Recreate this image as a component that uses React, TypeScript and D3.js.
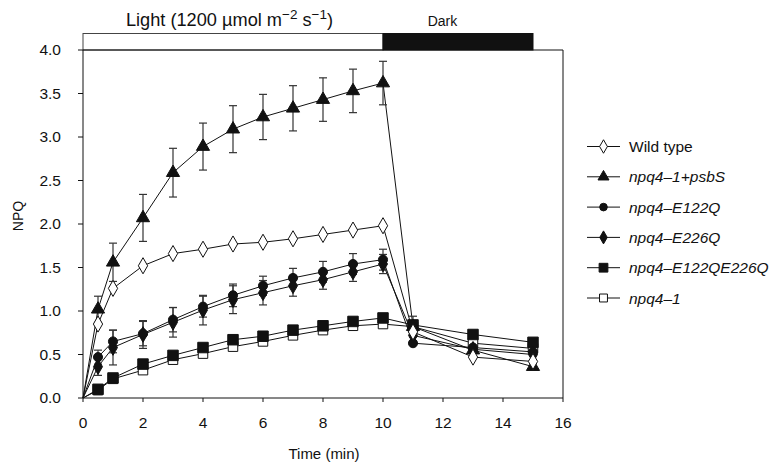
import React from 'react';
import { scaleLinear, line, symbol, symbolTriangle, symbolDiamond, symbolSquare, symbolCircle } from 'd3';

const times = [0, 0.5, 1, 2, 3, 4, 5, 6, 7, 8, 9, 10, 11, 13, 15];
const xTickValues = [0, 2, 4, 6, 8, 10, 12, 14, 16];
const yTickValues = [0, 0.5, 1, 1.5, 2, 2.5, 3, 3.5, 4];

const wildType = [0, 0.85, 1.26, 1.52, 1.66, 1.71, 1.77, 1.79, 1.83, 1.88, 1.93, 1.98, 0.76, 0.47, 0.42];
const psbS = [0, 1.02, 1.56, 2.07, 2.59, 2.89, 3.09, 3.23, 3.33, 3.43, 3.53, 3.62, 0.82, 0.55, 0.36];
const psbSErr = [0, 0.15, 0.22, 0.27, 0.28, 0.27, 0.27, 0.26, 0.26, 0.25, 0.25, 0.25, 0.12, 0, 0];
const e122q = [0, 0.47, 0.65, 0.74, 0.9, 1.05, 1.18, 1.29, 1.38, 1.45, 1.54, 1.59, 0.63, 0.58, 0.53];
const e122qErr = [0, 0.08, 0.13, 0.14, 0.14, 0.12, 0.13, 0.11, 0.11, 0.12, 0.12, 0.12, 0, 0, 0];
const e226q = [0, 0.36, 0.58, 0.73, 0.87, 1.01, 1.13, 1.21, 1.29, 1.36, 1.45, 1.54, 0.72, 0.56, 0.5];
const e226qErr = [0, 0.1, 0.2, 0.16, 0.17, 0.17, 0.16, 0.14, 0.12, 0.11, 0.11, 0.11, 0, 0, 0];
const double = [0, 0.1, 0.23, 0.39, 0.49, 0.58, 0.67, 0.71, 0.78, 0.83, 0.88, 0.92, 0.84, 0.73, 0.64];
const npq41 = [0, 0.09, 0.22, 0.32, 0.44, 0.51, 0.59, 0.65, 0.72, 0.78, 0.83, 0.85, 0.82, 0.63, 0.57];

const series = [
  { name: 'Wild type', italic: false, values: wildType, err: null, shape: symbolDiamond, size: 75, fill: '#fff' },
  { name: 'npq4\u20131+psbS', italic: true, values: psbS, err: psbSErr, shape: symbolTriangle, size: 75, fill: '#111' },
  { name: 'npq4\u2013E122Q', italic: true, values: e122q, err: e122qErr, shape: symbolCircle, size: 65, fill: '#111' },
  { name: 'npq4\u2013E226Q', italic: true, values: e226q, err: e226qErr, shape: symbolDiamond, size: 70, fill: '#111' },
  { name: 'npq4\u2013E122QE226Q', italic: true, values: double, err: null, shape: symbolSquare, size: 110, fill: '#111' },
  { name: 'npq4\u20131', italic: true, values: npq41, err: null, shape: symbolSquare, size: 90, fill: '#fff' },
];

const drawOrder = [5, 4, 3, 2, 1, 0];

export default function App() {
  const left = 83, top = 50, w = 480, h = 348;
  const x = scaleLinear().domain([0, 16]).range([left, left + w]);
  const y = scaleLinear().domain([0, 4]).range([top + h, top]);
  const font = 'Liberation Sans, Arial, sans-serif';

  const lineF = line<number>()
    .x((_, i) => x(times[i]))
    .y(d => y(d));

  return (
    <svg width={773} height={465} style={{ position: 'absolute', left: 0, top: 0, background: '#fff' }} fontFamily={font}>
      {/* light / dark bar */}
      <rect x={x(0)} y={33.5} width={x(10) - x(0)} height={top - 33.5} fill="#fff" stroke="#444" strokeWidth={1} />
      <rect x={x(10)} y={33.5} width={x(15) - x(10)} height={top - 33.5} fill="#111" stroke="#111" strokeWidth={1} />
      <text x={229.5} y={26} textAnchor="middle" fontSize={18.2} fill="#111">
        Light (1200 µmol m<tspan dy={-7} fontSize={13.5}>−2</tspan><tspan dy={7}> s</tspan><tspan dy={-7} fontSize={13.5}>−1</tspan><tspan dy={7}>)</tspan>
      </text>
      <text x={442.5} y={26} textAnchor="middle" fontSize={14} fill="#111">Dark</text>

      {/* plot box */}
      <line x1={x(0)} x2={x(16)} y1={y(4)} y2={y(4)} stroke="#111" />
      <line x1={x(16)} x2={x(16)} y1={y(4)} y2={y(0)} stroke="#111" />
      <line x1={x(0)} x2={x(16)} y1={y(0)} y2={y(0)} stroke="#111" />
      <line x1={x(0)} x2={x(0)} y1={y(4)} y2={y(0)} stroke="#111" />

      {yTickValues.map(d => (
        <g key={d} transform={`translate(${x(0)},${y(d)})`}>
          <line x1={-5} x2={0} stroke="#111" />
          <text x={-22} y={5} textAnchor="end" fontSize={15.5} fill="#111">{d.toFixed(1)}</text>
        </g>
      ))}
      {xTickValues.map(d => (
        <g key={d} transform={`translate(${x(d)},${y(0)})`}>
          <line y1={0} y2={4} stroke="#111" />
          <text y={30} textAnchor="middle" fontSize={15.5} fill="#111">{d}</text>
        </g>
      ))}
      <text x={324} y={459} textAnchor="middle" fontSize={15} fill="#111">Time (min)</text>
      <text transform={`translate(23,216) rotate(-90)`} textAnchor="middle" fontSize={14} fill="#111">NPQ</text>

      {/* series */}
      {drawOrder.map(si => {
        const s = series[si];
        return (
          <g key={s.name}>
            <path d={lineF(s.values) || ''} fill="none" stroke="#111" strokeWidth={1} />
            {s.err && s.values.map((v, i) => s.err![i] > 0 ? (
              <g key={i} stroke="#333" strokeWidth={1.2}>
                <line x1={x(times[i])} x2={x(times[i])} y1={y(v + s.err![i])} y2={y(v - s.err![i])} />
                <line x1={x(times[i]) - 4} x2={x(times[i]) + 4} y1={y(v + s.err![i])} y2={y(v + s.err![i])} />
                <line x1={x(times[i]) - 4} x2={x(times[i]) + 4} y1={y(v - s.err![i])} y2={y(v - s.err![i])} />
              </g>
            ) : null)}
          </g>
        );
      })}
      {drawOrder.map(si => {
        const s = series[si];
        const sym = symbol(s.shape, s.size)() || '';
        return (
          <g key={s.name + 'm'}>
            {s.values.map((v, i) => i === 0 ? null : (
              <path key={i} d={sym} transform={`translate(${x(times[i])},${y(v)})`} fill={s.fill} stroke="#111" strokeWidth={1} />
            ))}
          </g>
        );
      })}

      {/* legend */}
      {series.map((s, i) => {
        const ly = 146.5 + i * 30.3;
        const sym = symbol(s.shape, s.size * 0.7)() || '';
        return (
          <g key={s.name + 'l'} transform={`translate(587,${ly})`}>
            <line x1={0} x2={33} stroke="#111" />
            <path d={sym} transform="translate(16.5,0)" fill={s.fill} stroke="#111" />
            <text x={42} y={5.5} fontSize={15.5} fontStyle={s.italic ? 'italic' : 'normal'} fill="#111">{s.name}</text>
          </g>
        );
      })}
    </svg>
  );
}
